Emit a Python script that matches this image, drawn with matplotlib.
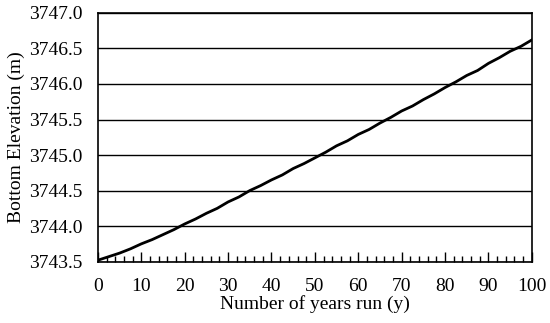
import numpy as np
import matplotlib.pyplot as plt
from matplotlib.ticker import MultipleLocator

years = [0, 2.5, 5, 7.5, 10, 12.5, 15, 17.5, 20, 22.5, 25, 27.5, 30, 32.5, 35,
         37.5, 40, 42.5, 45, 47.5, 50, 52.5, 55, 57.5, 60, 62.5, 65, 67.5, 70,
         72.5, 75, 77.5, 80, 82.5, 85, 87.5, 90, 92.5, 95, 97.5, 100]
elevation = [3743.52, 3743.57, 3743.62, 3743.68, 3743.75, 3743.81, 3743.88,
             3743.95, 3744.03, 3744.10, 3744.18, 3744.25, 3744.34, 3744.41,
             3744.50, 3744.57, 3744.65, 3744.72, 3744.81, 3744.88, 3744.96,
             3745.04, 3745.13, 3745.20, 3745.29, 3745.36, 3745.45, 3745.53,
             3745.62, 3745.69, 3745.78, 3745.86, 3745.95, 3746.03, 3746.12,
             3746.19, 3746.29, 3746.37, 3746.46, 3746.53, 3746.62]
yticks = [3743.5, 3744.0, 3744.5, 3745.0, 3745.5, 3746.0, 3746.5, 3747.0]


def main():
    plt.rcParams['font.family'] = ['Liberation Serif', 'DejaVu Serif']
    fig, ax = plt.subplots(figsize=(5.5, 3.23), dpi=100)
    fig.subplots_adjust(left=0.178, right=0.967, top=0.96, bottom=0.19)

    ax.plot(years, elevation, 'k-', lw=2)

    ax.set_xlim(0, 100)
    ax.set_ylim(3743.5, 3747.0)
    ax.set_yticks(yticks)
    ax.set_yticklabels(['%.1f' % v for v in yticks])
    ax.xaxis.set_major_locator(MultipleLocator(10))
    ax.xaxis.set_minor_locator(MultipleLocator(2))
    ax.grid(axis='y', color='black', lw=1)
    ax.set_axisbelow(True)

    ax.tick_params(axis='x', which='major', direction='in', length=7, width=1,
                   pad=12, labelsize=14)
    ax.tick_params(axis='x', which='minor', direction='in', length=4, width=1)
    ax.tick_params(axis='y', length=0, pad=11, labelsize=14)
    for s in ax.spines.values():
        s.set_linewidth(1.2)

    ax.set_xlabel('Number of years run (y)', fontsize=14, labelpad=0)
    ax.set_ylabel('Bottom Elevation (m)', fontsize=14, labelpad=3)

    fig.savefig('out.png', dpi=100)


if __name__ == '__main__':
    main()
